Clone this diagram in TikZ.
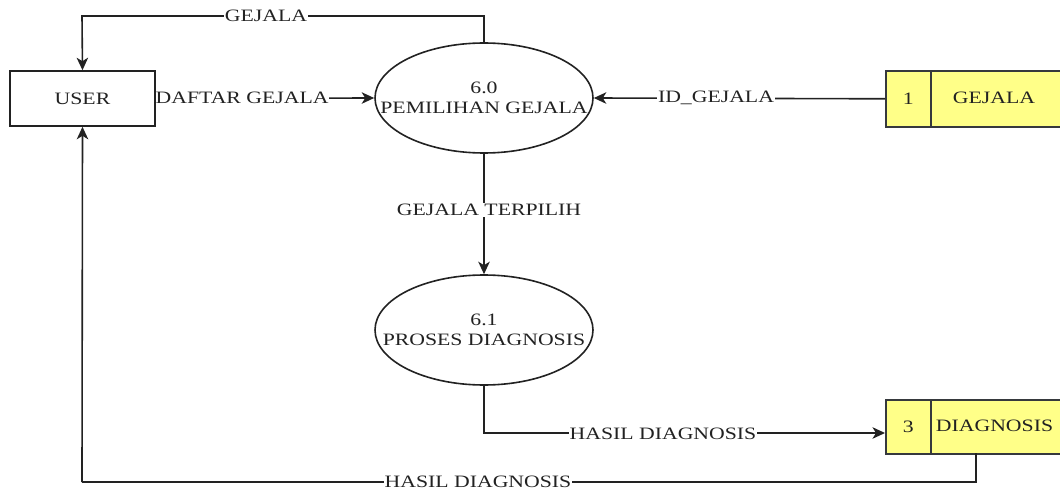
\documentclass[tikz,border=0pt]{standalone}
\usepackage{fontspec}
\setmainfont{Liberation Serif}[FakeStretch=1.25]
\usetikzlibrary{shapes.geometric,arrows.meta,calc}
\definecolor{storefill}{HTML}{FFFF88}
\definecolor{storeline}{HTML}{36393D}
\definecolor{ink}{HTML}{222222}
\begin{document}
\begin{tikzpicture}[x=1pt,y=-1pt,
  every node/.style={font=\fontsize{17.4}{19.5}\selectfont, text=ink},
  entity/.style={draw=ink, line width=1.6pt, fill=white, minimum width=145pt, minimum height=55pt, inner sep=0pt},
  proc/.style={draw=ink, line width=1.6pt, ellipse, minimum width=218pt, minimum height=110pt, inner sep=0pt},
  ptext/.style={align=center, inner sep=0pt},
  storebox/.style={draw=storeline, line width=1.6pt, fill=storefill, anchor=north west, inner sep=0pt},
  flow/.style={draw=ink, line width=1.6pt, -{Stealth[length=12.5pt,width=11.5pt,inset=3.5pt]}},
  plain/.style={draw=ink, line width=1.6pt},
  lbl/.style={fill=white, inner sep=1pt}]
\useasboundingbox (0,0) rectangle (1060,492);

% external entity and processes
\node[entity] (user) at (82.5,98.5) {USER};
\node[proc] (p60) at (484,98) {};
\node[ptext] at (p60.center) {6.0\\PEMILIHAN GEJALA};
\node[proc] (p61) at (484,330) {};
\node[ptext] at (p61.center) {6.1\\PROSES DIAGNOSIS};

% data stores
\node[storebox, minimum width=45pt, minimum height=56pt] (g1) at (885,70) {};
\node[storebox, minimum width=132pt, minimum height=56pt] (g2) at (930,70) {};
\node at (g1.center) {1};
\node at (994,98) {GEJALA};
\node[storebox, minimum width=45pt, minimum height=54pt] (d1) at (885,399) {};
\node[storebox, minimum width=132pt, minimum height=54pt] (d2) at (930,399) {};
\node at (d1.center) {3};
\node at (994.5,426) {DIAGNOSIS};

% helper points for bends
\coordinate (tl) at (82,16);
\coordinate (din) at (885,433);
\coordinate (dout) at (976,453);
\coordinate (bl) at (82,482);

% data flows
\draw[flow] (p60.north) |- (tl) -- (user.north);
\node[lbl] at (266,16) {GEJALA};

\draw[flow] (user.east) -- (p60.west);
\node[lbl, anchor=west, inner sep=0pt] at (155.5,98) {DAFTAR GEJALA};

\draw[flow] (g1.west) -- (p60.east);
\node[lbl] at (716,98) {ID\_GEJALA};

\draw[flow] (p60.south) -- (p61.north);
\node[lbl] at (489,210) {GEJALA TERPILIH};

\draw[flow] (p61.south) |- (din);
\node[lbl] at (663,434) {HASIL DIAGNOSIS};

\draw[plain] (dout) -- (dout |- bl) -- (bl);
\draw[flow] (bl) -- (user.south);
\node[lbl] at (478,482) {HASIL DIAGNOSIS};
\end{tikzpicture}
\end{document}
